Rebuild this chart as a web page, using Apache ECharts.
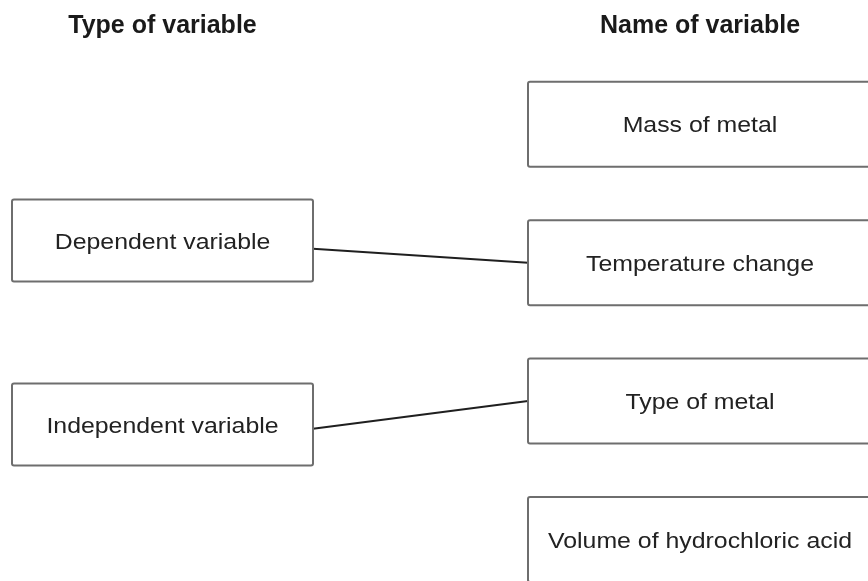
<!DOCTYPE html>
<html>
<head>
<meta charset="utf-8">
<script src="https://cdn.jsdelivr.net/npm/echarts@6/dist/echarts.min.js"></script>
<style>
    html, body { margin: 0; padding: 0; background: #fff; }
    #chart { width: 868px; height: 581px; }
</style>
</head>
<body>
<div id="chart"></div>
<script>
// column headers
var columnNames = ['Type of variable', 'Name of variable'];

// left column boxes (row = position on the shared row scale)
var typeNames = ['Dependent variable', 'Independent variable'];
var typeRows = [0.84, 2.17];

// right column boxes
var nameNames = ['Mass of metal', 'Temperature change', 'Type of metal', 'Volume of hydrochloric acid'];
var nameRows = [0, 1, 2, 3];

// connectors: row where they leave the left box / reach the right box
var linkFromRows = [0.9, 2.2];
var linkToRows = [1.0, 2.0];

var FONT = "'Liberation Sans', Arial, Helvetica, sans-serif";
var TYPE_W = 301, TYPE_H = 82;
var NAME_W = 344, NAME_H = 85;

function boxItem(w, h, names) {
    return function (params, api) {
        var p = api.coord([api.value(0), api.value(1)]);
        var name = names[api.value(2)];
        return {
            type: 'group',
            children: [{
                type: 'rect',
                shape: { x: p[0] - w / 2, y: p[1] - h / 2, width: w, height: h, r: 2 },
                style: { fill: '#fff', stroke: '#6e6e6e', lineWidth: 2 }
            }, {
                type: 'text',
                x: p[0],
                y: p[1] + 2,
                scaleX: 1.13,
                style: {
                    text: name,
                    fontSize: 22,
                    fontFamily: FONT,
                    fill: '#222',
                    align: 'center',
                    verticalAlign: 'middle'
                }
            }]
        };
    };
}

var chartObj = echarts.init(document.getElementById('chart'));
var chartOption = {
    animation: false,
    grid: { left: 162.5, right: 168, top: 55, bottom: 0 },
    xAxis: {
        type: 'category',
        position: 'top',
        data: columnNames,
        boundaryGap: false,
        axisLine: { show: false },
        axisTick: { show: false },
        splitLine: { show: false },
        axisLabel: {
            interval: 0,
            margin: 16,
            fontSize: 25,
            fontWeight: 'bold',
            fontFamily: FONT,
            color: '#1a1a1a'
        }
    },
    yAxis: {
        type: 'value',
        inverse: true,
        min: -0.5,
        max: 3.3,
        show: false
    },
    series: [
        {
            name: 'links',
            type: 'custom',
            clip: false,
            data: linkFromRows.map(function (r, i) { return [r, linkToRows[i]]; }),
            renderItem: function (params, api) {
                var a = api.coord([0, api.value(0)]);
                var b = api.coord([1, api.value(1)]);
                return {
                    type: 'line',
                    shape: { x1: a[0] + TYPE_W / 2, y1: a[1], x2: b[0] - NAME_W / 2, y2: b[1] },
                    style: { stroke: '#1f1f1f', lineWidth: 2 }
                };
            }
        },
        {
            name: 'types',
            type: 'custom',
            clip: false,
            data: typeRows.map(function (r, i) { return [0, r, i]; }),
            renderItem: boxItem(TYPE_W, TYPE_H, typeNames)
        },
        {
            name: 'names',
            type: 'custom',
            clip: false,
            data: nameRows.map(function (r, i) { return [1, r, i]; }),
            renderItem: boxItem(NAME_W, NAME_H, nameNames)
        }
    ]
};
chartObj.setOption(chartOption);
</script>
</body>
</html>
